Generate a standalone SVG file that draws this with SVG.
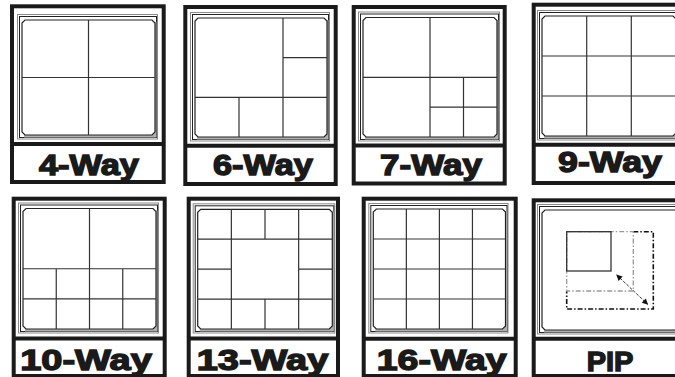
<svg xmlns="http://www.w3.org/2000/svg" width="675" height="377" viewBox="0 0 675 377">
<style>
.frame{fill:#fff;stroke:#1a1a1a;stroke-width:4}
.dv{stroke:#1a1a1a;stroke-width:4}
.s1{fill:none;stroke:#8a8a8a;stroke-width:1}
.s2{fill:#fff;stroke:#222;stroke-width:1}
.sh{fill:#b0b0b0;stroke:none}
.scr{fill:#fff;stroke:#222;stroke-width:1.2}
.g{fill:none;stroke:#333;stroke-width:1.2}
.lbl{font-family:"Liberation Sans",Arial,sans-serif;font-weight:bold;fill:#1a1a1a;stroke:#1a1a1a;stroke-width:1.4;text-anchor:middle}
</style>
<defs>
<marker id="ah" viewBox="0 0 10 10" refX="9" refY="5" markerWidth="7" markerHeight="6" markerUnits="userSpaceOnUse" orient="auto-start-reverse">
<path d="M0,0 L10,5 L0,10 Z" fill="#111"/>
</marker>
</defs>
<rect width="675" height="377" fill="#fff"/>

<g id="way4">
<rect class="frame" x="12" y="6.3" width="151.7" height="175.7"/>
<line class="dv" x1="12" y1="144" x2="163.7" y2="144"/>
<rect class="s1" x="17.5" y="14.5" width="140" height="124.5"/>
<rect class="s2" x="19.5" y="16.5" width="137" height="121"/>
<rect class="sh" x="24" y="22" width="132.5" height="115.5"/>
<path class="scr" d="M25,20 H152 L155,23 V132 L152,135 H25 L22,132 V23 Z"/>
<path class="g" d="M88.5,20 V135 M22,77.5 H155"/>
<text class="lbl" x="89" y="175" font-size="29" textLength="100" lengthAdjust="spacingAndGlyphs">4-Way</text>
</g>

<g id="way6">
<rect class="frame" x="185.3" y="7" width="150.4" height="177"/>
<line class="dv" x1="185.3" y1="145.7" x2="335.7" y2="145.7"/>
<rect class="s1" x="190.5" y="12.5" width="139" height="128.5"/>
<rect class="s2" x="192.5" y="14.5" width="136" height="125"/>
<rect class="sh" x="197" y="20" width="131.5" height="119.5"/>
<path class="scr" d="M198,18 H324 L327,21 V134 L324,137 H198 L195,134 V21 Z"/>
<path class="g" d="M283,18 V137 M283,57.7 H327 M195,97.3 H327 M239,97.3 V137"/>
<text class="lbl" x="263" y="175" font-size="29" textLength="100" lengthAdjust="spacingAndGlyphs">6-Way</text>
</g>

<g id="way7">
<rect class="frame" x="353.7" y="7" width="151" height="176.5"/>
<line class="dv" x1="353.7" y1="145.5" x2="504.7" y2="145.5"/>
<rect class="s1" x="358.5" y="12" width="141" height="129"/>
<rect class="s2" x="360.5" y="14" width="138" height="125.5"/>
<rect class="sh" x="365" y="20" width="133.5" height="119.5"/>
<path class="scr" d="M366,17.5 H494 L497,20.5 V134 L494,137 H366 L363,134 V20.5 Z"/>
<path class="g" d="M430,17.5 V137 M363,77.3 H497 M463.5,77.3 V137 M430,107.1 H497"/>
<text class="lbl" x="431" y="175" font-size="29" textLength="102" lengthAdjust="spacingAndGlyphs">7-Way</text>
</g>

<g id="way9">
<rect class="frame" x="533.7" y="4.7" width="150" height="178.3"/>
<line class="dv" x1="533.7" y1="144.7" x2="683.7" y2="144.7"/>
<rect class="s1" x="537.5" y="10.5" width="141" height="129.5"/>
<rect class="s2" x="539.5" y="12.5" width="138" height="126"/>
<rect class="sh" x="544" y="18" width="133.5" height="120.5"/>
<path class="scr" d="M545,16 H673 L676,19 V133 L673,136 H545 L542,133 V19 Z"/>
<path class="g" d="M586.7,16 V136 M631.3,16 V136 M542,56 H676 M542,96 H676"/>
<text class="lbl" x="610" y="171.7" font-size="30" textLength="104" lengthAdjust="spacingAndGlyphs">9-Way</text>
</g>

<g id="way10">
<rect class="frame" x="13.7" y="198.7" width="151" height="177.3"/>
<line class="dv" x1="13.7" y1="338.5" x2="164.7" y2="338.5"/>
<rect class="s1" x="18.5" y="203" width="140" height="130"/>
<rect class="s2" x="20.5" y="205" width="137" height="126.5"/>
<rect class="sh" x="25" y="210.5" width="132.5" height="121"/>
<path class="scr" d="M26,208.5 H153 L156,211.5 V326 L153,329 H26 L23,326 V211.5 Z"/>
<path class="g" d="M89.5,208.5 V329 M23,268.75 H156 M56.25,268.75 V329 M122.75,268.75 V329 M23,298.9 H156"/>
<text class="lbl" x="86" y="369.5" font-size="30" textLength="131.7" lengthAdjust="spacingAndGlyphs">10-Way</text>
</g>

<g id="way13">
<rect class="frame" x="188.7" y="198.7" width="149.3" height="177.3"/>
<line class="dv" x1="188.7" y1="338.5" x2="338" y2="338.5"/>
<rect class="s1" x="193.2" y="203.8" width="141.6" height="129.2"/>
<rect class="s2" x="195.2" y="205.8" width="138.6" height="125.7"/>
<rect class="sh" x="199.7" y="211.3" width="134.1" height="120.2"/>
<path class="scr" d="M200.7,209.3 H329.3 L332.3,212.3 V326 L329.3,329 H200.7 L197.7,326 V212.3 Z"/>
<path class="g" d="M197.7,239.2 H332.3 M197.7,299.1 H332.3 M197.7,269.15 H231.35 M298.65,269.15 H332.3 M231.35,209.3 V329 M298.65,209.3 V329 M265,209.3 V239.2 M265,299.1 V329"/>
<text class="lbl" x="262.5" y="369.5" font-size="30" textLength="131.7" lengthAdjust="spacingAndGlyphs">13-Way</text>
</g>

<g id="way16">
<rect class="frame" x="363.7" y="198.7" width="152" height="177.3"/>
<line class="dv" x1="363.7" y1="338.7" x2="515.7" y2="338.7"/>
<rect class="s1" x="368.8" y="203.5" width="139.2" height="129.5"/>
<rect class="s2" x="370.8" y="205.5" width="136.2" height="126"/>
<rect class="sh" x="375.3" y="211" width="131.7" height="120.5"/>
<path class="scr" d="M376.3,209 H502.5 L505.5,212 V326 L502.5,329 H376.3 L373.3,326 V212 Z"/>
<path class="g" d="M406.35,209 V329 M439.4,209 V329 M472.45,209 V329 M373.3,239 H505.5 M373.3,269 H505.5 M373.3,299 H505.5"/>
<text class="lbl" x="441.7" y="369.5" font-size="30" textLength="130" lengthAdjust="spacingAndGlyphs">16-Way</text>
</g>

<g id="pip">
<rect class="frame" x="533.7" y="200.3" width="150" height="175.7"/>
<line class="dv" x1="533.7" y1="338.7" x2="683.7" y2="338.7"/>
<rect class="s1" x="537.5" y="204.5" width="143" height="129.5"/>
<rect class="s2" x="539.5" y="206.5" width="140" height="126"/>
<rect class="sh" x="544" y="212" width="135.5" height="120.5"/>
<path class="scr" d="M545,210 H675 L678,213 V327 L675,330 H545 L542,327 V213 Z"/>
<path d="M633.3,231.7 H653.3 V309 H566.7 V291" fill="none" stroke="#111" stroke-width="1.6" stroke-dasharray="5 2 1.5 2"/>
<rect x="566.7" y="231.7" width="66.6" height="59.3" fill="none" stroke="#9a9a9a" stroke-width="1.3" stroke-dasharray="5 2 1.5 2"/>
<rect x="566.7" y="231.7" width="44.3" height="39.3" fill="none" stroke="#333" stroke-width="1.3"/>
<line x1="616.7" y1="275" x2="647.7" y2="304.3" stroke="#333" stroke-width="1" stroke-dasharray="3 1.5" marker-start="url(#ah)" marker-end="url(#ah)"/>
<text class="lbl" x="610" y="370.5" font-size="28" textLength="46.7" lengthAdjust="spacingAndGlyphs">PIP</text>
</g>
</svg>
